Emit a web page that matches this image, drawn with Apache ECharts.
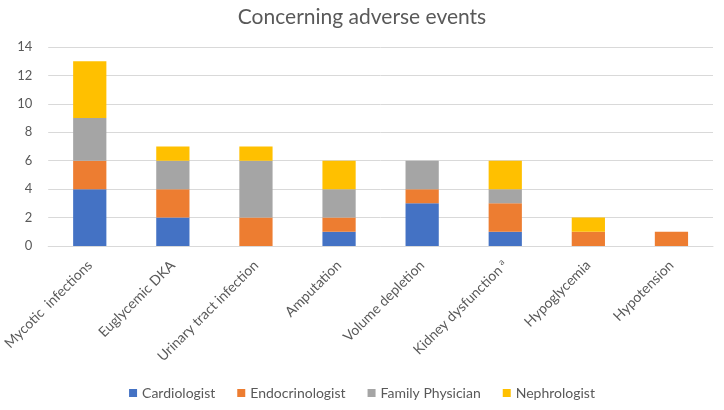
<!DOCTYPE html>
<html>
<head>
<meta charset="utf-8">
<script src="https://cdn.jsdelivr.net/npm/echarts@6/dist/echarts.min.js"></script>
<style>html,body{margin:0;padding:0;background:#fff}#c{width:724px;height:410px}</style>
</head>
<body>
<div id="c"></div>
<script>
const categories = ["Mycotic  infections", "Euglycemic DKA", "Urinary tract infection", "Amputation", "Volume depletion", "Kidney dysfunction{sup|a}", "Hypoglycemia", "Hypotension"];
const cardiologist = [4, 2, 0, 1, 3, 1, 0, 0];
const endocrinologist = [2, 2, 2, 1, 1, 2, 1, 1];
const familyPhysician = [3, 2, 4, 2, 2, 1, 0, 0];
const nephrologist = [4, 1, 1, 2, 0, 2, 1, 0];
const seriesNames = ["Cardiologist", "Endocrinologist", "Family Physician", "Nephrologist"];
const colors = ["#4472C4", "#ED7D31", "#A5A5A5", "#FFC000"];
const font = "Lato, 'Open Sans', sans-serif";

const chart = echarts.init(document.getElementById('c'));
const data = [cardiologist, endocrinologist, familyPhysician, nephrologist];
chart.setOption({
  animation: false,
  title: {text: "Concerning adverse events", left: 'center', top: 2,
    textStyle: {fontFamily: font, fontWeight: 'normal', fontSize: 21, color: '#595959'}},
  legend: {bottom: 5, left: 'center', itemWidth: 8, itemHeight: 8, itemGap: 22, icon: 'rect',
    textStyle: {fontFamily: font, fontSize: 14, color: '#595959'}},
  grid: {left: 48, right: 11, top: 47, bottom: 164},
  xAxis: {type: 'category', data: categories,
    axisLine: {lineStyle: {color: '#d9d9d9'}}, axisTick: {show: false},
    axisLabel: {rotate: 45, interval: 0, fontFamily: font, fontSize: 14, color: '#595959', margin: 17,
      rich: {sup: {fontSize: 9, verticalAlign: 'top', color: '#595959', fontFamily: font, padding: [0,0,7,3]}}}},
  yAxis: {type: 'value', min: 0, max: 14, interval: 2,
    axisLabel: {fontFamily: font, fontSize: 13, color: '#595959', margin: 16},
    splitLine: {lineStyle: {color: '#d9d9d9', width: 1}}, axisLine: {show: false}, axisTick: {show: false}},
  series: seriesNames.map((n, i) => ({name: n, type: 'bar', stack: 'a', data: data[i],
    barWidth: '40%', itemStyle: {color: colors[i]}}))
});
</script>
</body>
</html>
